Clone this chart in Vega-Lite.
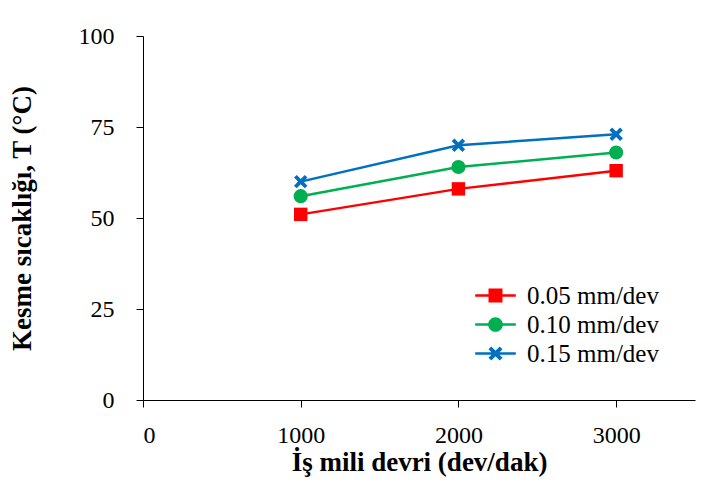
{
  "$schema": "https://vega.github.io/schema/vega-lite/v6.json",
  "width": 552,
  "height": 364,
  "autosize": {"type": "none"},
  "padding": {"left": 143, "top": 36, "right": 24, "bottom": 95},
  "background": "white",
  "config": {
    "view": {"stroke": null},
    "font": "Liberation Serif",
    "axis": {
      "grid": false,
      "domainColor": "black",
      "tickColor": "black",
      "domainWidth": 1,
      "tickWidth": 1,
      "tickSize": 7,
      "labelFont": "Liberation Serif",
      "labelFontSize": 24,
      "labelColor": "black",
      "titleFont": "Liberation Serif",
      "titleFontSize": 27,
      "titleFontWeight": "bold",
      "titleColor": "black"
    }
  },
  "data": {
    "values": [
      {"devir": 1000, "T": 51, "seri": "0.05 mm/dev"},
      {"devir": 2000, "T": 58, "seri": "0.05 mm/dev"},
      {"devir": 3000, "T": 63, "seri": "0.05 mm/dev"},
      {"devir": 1000, "T": 56, "seri": "0.10 mm/dev"},
      {"devir": 2000, "T": 64, "seri": "0.10 mm/dev"},
      {"devir": 3000, "T": 68, "seri": "0.10 mm/dev"},
      {"devir": 1000, "T": 60, "seri": "0.15 mm/dev"},
      {"devir": 2000, "T": 70, "seri": "0.15 mm/dev"},
      {"devir": 3000, "T": 73, "seri": "0.15 mm/dev"}
    ]
  },
  "encoding": {
    "x": {
      "field": "devir", "type": "quantitative",
      "scale": {"domain": [0, 3500], "nice": false},
      "axis": {"values": [0, 1000, 2000, 3000], "format": "d", "title": "İş mili devri (dev/dak)", "labelPadding": 16, "titlePadding": 2}
    },
    "y": {
      "field": "T", "type": "quantitative",
      "scale": {"domain": [0, 100], "nice": false},
      "axis": {"values": [0, 25, 50, 75, 100], "title": "Kesme sıcaklığı, T (°C)", "labelPadding": 22, "titlePadding": 42}
    },
    "color": {
      "field": "seri", "type": "nominal",
      "scale": {"domain": ["0.05 mm/dev", "0.10 mm/dev", "0.15 mm/dev"], "range": ["#FF0000", "#00B050", "#0070C0"]},
      "legend": {
        "orient": "none",
        "legendX": 340,
        "legendY": 247,
        "padding": 0,
        "title": null,
        "labelFont": "Liberation Serif",
        "labelFontSize": 25,
        "labelColor": "black",
        "symbolSize": 196,
        "rowPadding": 3,
        "labelOffset": 19,
        "symbolOpacity": 1,
        "encode": {
          "symbols": {
            "update": {
              "shape": {"signal": "datum.value === '0.05 mm/dev' ? 'M-2.9,-0.17H2.9V0.17H-2.9Z M-1,-1H1V1H-1Z' : datum.value === '0.10 mm/dev' ? 'M-2.9,-0.17H2.9V0.17H-2.9Z M-1.05,0A1.05,1.05 0 1,1 1.05,0A1.05,1.05 0 1,1 -1.05,0Z' : 'M-2.9,-0.17H2.9V0.17H-2.9Z M-1,-0.6L-0.6,-1L0,-0.4L0.6,-1L1,-0.6L0.4,0L1,0.6L0.6,1L0,0.4L-0.6,1L-1,0.6L-0.4,0Z'"},
              "fill": {"signal": "datum.value === '0.05 mm/dev' ? '#FF0000' : datum.value === '0.10 mm/dev' ? '#00B050' : '#0070C0'"},
              "fillOpacity": {"value": 1},
              "stroke": {"value": null},
              "strokeWidth": {"value": 0},
              "opacity": {"value": 1}
            }
          }
        }
      }
    }
  },
  "layer": [
    {
      "mark": {"type": "line", "strokeWidth": 2.5}
    },
    {
      "transform": [{"filter": "datum.seri === '0.05 mm/dev'"}],
      "mark": {"type": "point", "filled": true, "opacity": 1, "size": 180, "shape": "square"}
    },
    {
      "transform": [{"filter": "datum.seri === '0.10 mm/dev'"}],
      "mark": {"type": "point", "filled": true, "opacity": 1, "size": 200, "shape": "circle"}
    },
    {
      "transform": [{"filter": "datum.seri === '0.15 mm/dev'"}],
      "mark": {"type": "point", "filled": true, "opacity": 1, "size": 180, "shape": "M-1,-0.6L-0.6,-1L0,-0.4L0.6,-1L1,-0.6L0.4,0L1,0.6L0.6,1L0,0.4L-0.6,1L-1,0.6L-0.4,0Z"}
    }
  ]
}
